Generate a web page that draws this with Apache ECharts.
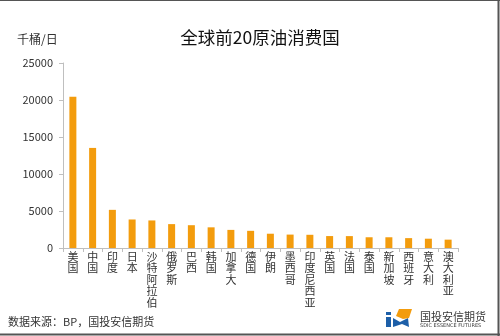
<!DOCTYPE html>
<html>
<head>
<meta charset="utf-8">
<script src="https://cdn.jsdelivr.net/npm/echarts@6/dist/echarts.min.js"></script>
<style>
html,body{margin:0;padding:0;background:#fff;}
#chart{width:500px;height:336px;}
</style>
</head>
<body>
<div id="chart"></div>
<script>
// Top 20 crude oil consuming countries, thousand barrels per day
const countries = ['美国','中国','印度','日本','沙特阿拉伯','俄罗斯','巴西','韩国','加拿大','德国','伊朗','墨西哥','印度尼西亚','英国','法国','泰国','新加坡','西班牙','意大利','澳大利亚'];
const consumption = [20456, 13525, 5156, 3854, 3724, 3228, 3081, 2793, 2447, 2321, 1930, 1812, 1785, 1613, 1607, 1451, 1450, 1334, 1257, 1129];
const yTicks = [0, 5000, 10000, 15000, 20000, 25000];

const FONT = '"Microsoft YaHei","Noto Sans CJK SC",sans-serif';
const chart = echarts.init(document.getElementById('chart'), null, {renderer: 'canvas'});

chart.setOption({
  animation: false,
  backgroundColor: '#fff',
  title: {
    text: '全球前20原油消费国',
    left: 255, top: 24, textAlign: 'center',
    textStyle: {fontFamily: FONT, fontSize: 17.5, fontWeight: 'normal', color: '#111'}
  },
  grid: {left: 63, top: 63, right: 42, bottom: 88, containLabel: false},
  xAxis: {
    type: 'category',
    data: countries,
    axisLine: {lineStyle: {color: '#bfbfbf', width: 1}},
    axisTick: {show: true, alignWithLabel: false, length: 4, lineStyle: {color: '#bfbfbf'}},
    axisLabel: {
      interval: 0, margin: 3,
      fontFamily: FONT, fontSize: 11, color: '#333', lineHeight: 11.5,
      formatter: v => v.split('').join('\n')
    }
  },
  yAxis: {
    type: 'value',
    min: yTicks[0], max: yTicks[yTicks.length - 1], interval: 5000,
    splitLine: {show: false},
    axisLine: {show: true, lineStyle: {color: '#bfbfbf', width: 1}},
    axisTick: {show: true, length: 4, lineStyle: {color: '#bfbfbf'}},
    axisLabel: {margin: 10, fontFamily: FONT, fontSize: 11, color: '#333', formatter: v => String(v)}
  },
  series: [{
    type: 'bar',
    data: consumption,
    barWidth: 7,
    itemStyle: {color: '#f39c0d'}
  }],
  graphic: [
    // frame: top, right and bottom edges
    {type: 'line', shape: {x1: 0, y1: 0.5, x2: 500, y2: 0.5}, style: {stroke: '#555', lineWidth: 1}, silent: true},
    {type: 'line', shape: {x1: 498.5, y1: 0, x2: 498.5, y2: 336}, style: {stroke: '#555', lineWidth: 2}, silent: true},
    {type: 'line', shape: {x1: 0, y1: 334.5, x2: 500, y2: 334.5}, style: {stroke: '#555', lineWidth: 2}, silent: true},
    {type: 'text', left: 17, top: 33, style: {text: '千桶/日', font: '12px ' + FONT, fill: '#333'}},
    {type: 'text', left: 8, top: 316, style: {text: '数据来源：BP，国投安信期货', font: '11px ' + FONT, fill: '#333'}},
    // company logo mark
    {type: 'rect', shape: {x: 386, y: 312, width: 5, height: 3}, style: {fill: '#1d5fa8'}},
    {type: 'rect', shape: {x: 386, y: 317, width: 5, height: 10}, style: {fill: '#1d5fa8'}},
    {type: 'polygon', shape: {points: [[393, 327], [393, 318], [400, 322], [408, 318], [409, 327], [402, 324]]}, style: {fill: '#1d5fa8'}},
    {type: 'polygon', shape: {points: [[396, 316], [399, 309], [412, 309], [409, 318], [403, 319]]}, style: {fill: '#f39c0d'}},
    {type: 'text', left: 420, top: 311, style: {text: '国投安信期货', font: '11px ' + FONT, fill: '#3a3a3a'}},
    {type: 'text', left: 420, top: 323, style: {text: 'SDIC ESSENCE FUTURES', font: '5px "DejaVu Sans",sans-serif', fill: '#3a3a3a'}}
  ]
});
</script>
</body>
</html>
